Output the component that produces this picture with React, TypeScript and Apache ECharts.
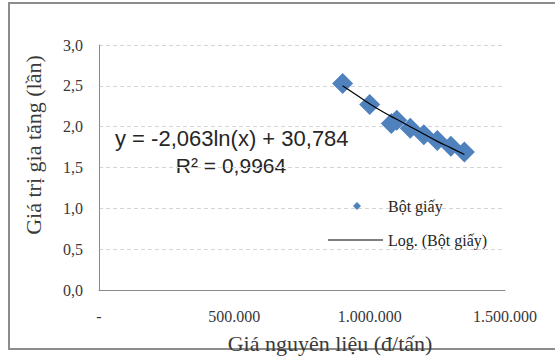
import React, { useEffect, useRef } from "react";
import * as echarts from "echarts";

const priceX = [900000, 1000000, 1080000, 1100000, 1150000, 1200000, 1250000, 1300000, 1350000];
const valueY = [2.53, 2.27, 2.04, 2.08, 1.98, 1.9, 1.83, 1.76, 1.69];
const trendX = [900000, 950000, 1000000, 1050000, 1100000, 1150000, 1200000, 1250000, 1300000, 1350000];
const trendY = [2.5, 2.39, 2.28, 2.18, 2.09, 2.0, 1.91, 1.82, 1.74, 1.66];
const yTicks = [0, 0.5, 1, 1.5, 2, 2.5, 3];
const xTicks = [0, 500000, 1000000, 1500000];
const seriesName = "Bột giấy";
const trendName = "Log. (Bột giấy)";
const equationText = "y = -2,063ln(x) + 30,784";
const r2Text = "R² = 0,9964";
const xTitle = "Giá nguyên liệu (đ/tấn)";
const yTitle = "Giá trị gia tăng (lần)";

const SERIF = "Liberation Serif";
const SANS = "Liberation Sans";

function fmtX(v: number): string {
  if (v === 0) return "-";
  return String(Math.round(v)).replace(/\B(?=(\d{3})+(?!\d))/g, ".");
}

export default function App() {
  const ref = useRef<HTMLDivElement>(null);
  useEffect(() => {
    if (!ref.current) return;
    const chart = echarts.init(ref.current, null, { renderer: "svg" });
    chart.setOption({
      animation: false,
      backgroundColor: "#ffffff",
      grid: { left: 99, right: 50, top: 45, bottom: 70, containLabel: false },
      xAxis: {
        type: "value",
        min: xTicks[0],
        max: xTicks[xTicks.length - 1],
        interval: 500000,
        axisLine: { show: true, lineStyle: { color: "#8a8a8a", width: 1 } },
        axisTick: { show: false },
        splitLine: { show: false },
        axisLabel: {
          formatter: (v: number) => fmtX(v),
          fontFamily: SERIF,
          fontSize: 16,
          color: "#383838",
          margin: 18,
        },
      },
      yAxis: {
        type: "value",
        min: yTicks[0],
        max: yTicks[yTicks.length - 1],
        interval: 0.5,
        axisLine: { show: true, lineStyle: { color: "#8a8a8a", width: 1 } },
        axisTick: { show: false },
        splitLine: { show: true, lineStyle: { color: "#d4d4d4", type: [4, 3], width: 1 } },
        axisLabel: {
          formatter: (v: number) => v.toFixed(1).replace(".", ","),
          fontFamily: SERIF,
          fontSize: 16,
          color: "#383838",
          margin: 16,
        },
      },
      legend: [
        {
          orient: "vertical",
          left: 353,
          top: 198,
          padding: 0,
          itemWidth: 8,
          itemHeight: 8,
          textStyle: { fontFamily: SERIF, fontSize: 16, color: "#262626", padding: [0, 0, 0, 22] },
          data: [{ name: seriesName, icon: "diamond" }],
        },
        {
          orient: "vertical",
          left: 328,
          top: 232,
          padding: 0,
          itemWidth: 55,
          itemHeight: 1,
          textStyle: { fontFamily: SERIF, fontSize: 16, color: "#262626" },
          data: [{ name: trendName, icon: "rect" }],
        },
      ],
      series: [
        {
          name: seriesName,
          type: "scatter",
          symbol: "diamond",
          symbolSize: 21,
          itemStyle: { color: "#4f81bd", opacity: 1 },
          data: priceX.map((x, i) => [x, valueY[i]]),
          z: 2,
        },
        {
          name: trendName,
          type: "line",
          smooth: true,
          symbol: "none",
          showSymbol: false,
          lineStyle: { color: "#000000", width: 1.2 },
          itemStyle: { color: "#000000" },
          data: trendX.map((x, i) => [x, trendY[i]]),
          z: 3,
        },
      ],
      graphic: [
        {
          type: "rect",
          silent: true,
          shape: { x: 9, y: 3, width: 580, height: 346 },
          style: { fill: "none", stroke: "#8c8c8c", lineWidth: 2 },
          z: -1,
        },
        {
          type: "text",
          x: 115,
          y: 138,
          style: { text: equationText, fontFamily: SANS, fontSize: 22, fill: "#262626", verticalAlign: "middle" },
        },
        {
          type: "text",
          x: 231,
          y: 165,
          style: { text: r2Text, fontFamily: SANS, fontSize: 21, fill: "#262626", align: "center", verticalAlign: "middle" },
        },
        {
          type: "text",
          x: 330,
          y: 343,
          style: { text: xTitle, fontFamily: SERIF, fontSize: 22, fill: "#3a3a3a", align: "center", verticalAlign: "middle" },
        },
        {
          type: "text",
          x: 33,
          y: 145,
          rotation: Math.PI / 2,
          style: { text: yTitle, fontFamily: SERIF, fontSize: 22, fill: "#3a3a3a", align: "center", verticalAlign: "middle" },
        },
      ],
    });
    return () => chart.dispose();
  }, []);
  return (
    <div
      ref={ref}
      style={{ position: "absolute", left: 0, top: 0, width: 555, height: 360 }}
    />
  );
}
